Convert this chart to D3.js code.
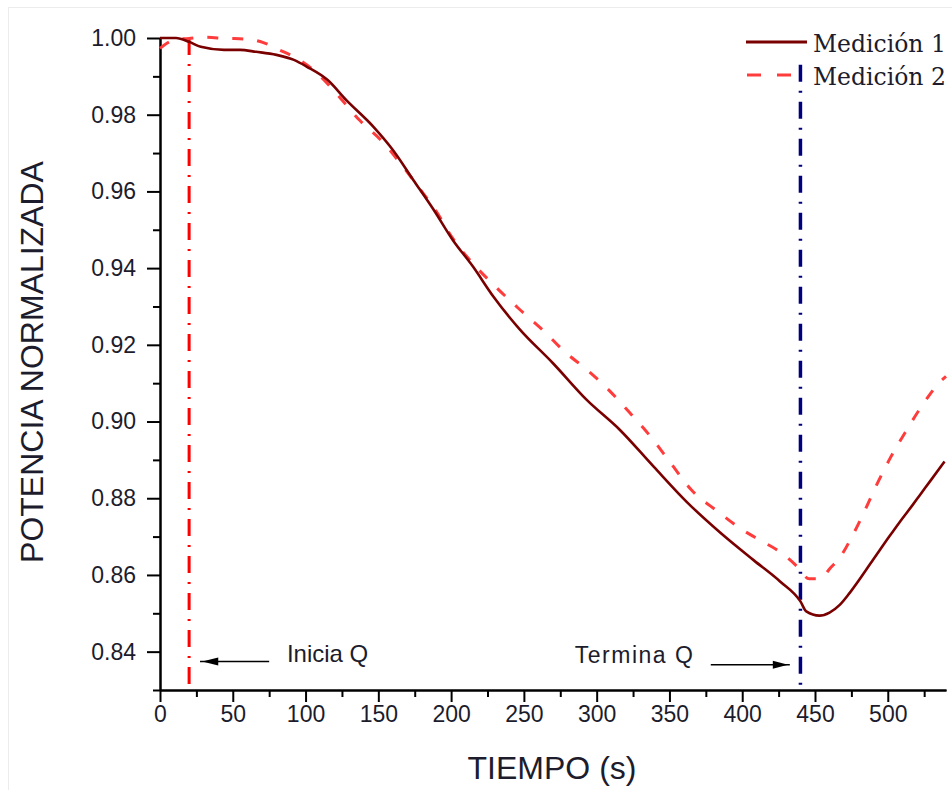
<!DOCTYPE html>
<html>
<head>
<meta charset="utf-8">
<script src="https://cdn.jsdelivr.net/npm/d3@7"></script>
<style>
  html, body { margin: 0; padding: 0; background: #fff; }
  svg { display: block; }
</style>
</head>
<body>
<svg id="chart" width="952" height="790"></svg>
<script>
// ---------- data ----------
const tiempo1 = [0, 11, 20, 28, 44, 55, 66, 80, 92, 101, 115, 128, 146.5, 160, 174, 188, 201, 215, 229, 247, 270, 293, 316, 339, 362, 385, 408, 426, 440, 444, 453, 460, 467, 474, 490, 501, 508, 517, 522, 529, 539];
const medicion1 = [1.0000, 1.0000, 0.9990, 0.9977, 0.9969, 0.9969, 0.9964, 0.9956, 0.9943, 0.9925, 0.9891, 0.9838, 0.9769, 0.9708, 0.9630, 0.9552, 0.9474, 0.9404, 0.9326, 0.9241, 0.9152, 0.9057, 0.8978, 0.8883, 0.8790, 0.8710, 0.8638, 0.8583, 0.8531, 0.8505, 0.8494, 0.8502, 0.8522, 0.8554, 0.8640, 0.8700, 0.8737, 0.8782, 0.8808, 0.8844, 0.8896];

const tiempo2 = [0, 5, 11, 20, 28, 46, 60, 71, 82, 94, 108, 121, 137, 153, 166, 179, 190, 201, 215, 228, 246, 264, 278, 292, 306, 322, 337, 351, 365, 383, 400, 414, 426, 438, 446, 453, 461, 467, 475, 484, 493, 501, 513, 524, 536, 540];
const medicion2 = [0.9973, 0.9987, 0.9997, 0.9999, 1.0002, 0.9999, 0.9997, 0.9988, 0.9969, 0.9947, 0.9908, 0.9856, 0.9786, 0.9729, 0.9669, 0.9604, 0.9547, 0.9478, 0.9412, 0.9361, 0.9296, 0.9235, 0.9182, 0.9139, 0.9091, 0.9026, 0.8961, 0.8891, 0.8822, 0.8766, 0.8718, 0.8687, 0.8660, 0.8621, 0.8590, 0.8590, 0.8620, 0.8645, 0.8697, 0.8766, 0.8840, 0.8900, 0.8978, 0.9044, 0.9104, 0.9118];

const xMajorTicks = [0, 50, 100, 150, 200, 250, 300, 350, 400, 450, 500];
const xMinorTicks = [25, 75, 125, 175, 225, 275, 325, 375, 425, 475, 525];
const yMajorTicks = [0.84, 0.86, 0.88, 0.90, 0.92, 0.94, 0.96, 0.98, 1.00];
const yMinorTicks = [0.83, 0.85, 0.87, 0.89, 0.91, 0.93, 0.95, 0.97, 0.99];

const seriesNames = ["Medición 1", "Medición 2"];
const inicioQ = 20;     // s
const finQ = 440;       // s
const xLabel = "TIEMPO (s)";
const yLabel = "POTENCIA NORMALIZADA";
const anotInicia = "Inicia Q";
const anotTermina = "Termina Q";

// ---------- layout ----------
const svg = d3.select("#chart");
const sans = "'Liberation Sans', Arial, sans-serif";
const serif = "'DejaVu Serif', 'Liberation Serif', serif";
const txtColor = "#1c1c2c";

const x = d3.scaleLinear().domain([0, 540]).range([160, 946]);
const y = d3.scaleLinear().domain([0.83, 1.00]).range([690, 38]);

// faint frame
svg.append("rect").attr("x", 8.5).attr("y", 7.5).attr("width", 952).attr("height", 790)
  .attr("fill", "none").attr("stroke", "#ececec").attr("stroke-width", 1);

// ---------- axes ----------
const xAxisMajor = d3.axisBottom(x).tickValues(xMajorTicks).tickSize(12).tickSizeOuter(0).tickPadding(4)
  .tickFormat(d3.format("d"));
const xAxisMinor = d3.axisBottom(x).tickValues(xMinorTicks).tickSize(7).tickSizeOuter(0).tickFormat("");
const yAxisMajor = d3.axisLeft(y).tickValues(yMajorTicks).tickSize(13).tickSizeOuter(0).tickPadding(11)
  .tickFormat(d3.format(".2f"));
const yAxisMinor = d3.axisLeft(y).tickValues(yMinorTicks).tickSize(7).tickSizeOuter(0).tickFormat("");

function styleAxis(g) {
  g.selectAll("path.domain").attr("stroke", "#000").attr("stroke-width", 2);
  g.selectAll(".tick line").attr("stroke", "#000").attr("stroke-width", 2);
  g.selectAll(".tick text").attr("fill", txtColor).style("font-family", sans).style("font-size", "23px");
}

svg.append("g").attr("transform", "translate(0,690)").call(xAxisMinor).call(styleAxis);
svg.append("g").attr("transform", "translate(0,690)").call(xAxisMajor).call(styleAxis);
svg.append("g").attr("transform", "translate(160,0)").call(yAxisMinor).call(styleAxis);
svg.append("g").attr("transform", "translate(160,0)").call(yAxisMajor).call(styleAxis);

// axis titles
svg.append("text").attr("x", 552).attr("y", 779).attr("text-anchor", "middle")
  .style("font-family", sans).style("font-size", "32px").attr("fill", txtColor).text(xLabel);
svg.append("text").attr("transform", "translate(43,362) rotate(-90)").attr("text-anchor", "middle")
  .style("font-family", sans).style("font-size", "32px").attr("fill", txtColor).text(yLabel);

// ---------- vertical markers ----------
svg.append("line").attr("x1", x(inicioQ)).attr("x2", x(inicioQ)).attr("y1", y(1.00)).attr("y2", y(0.83))
  .attr("stroke", "#ff0000").attr("stroke-width", 3).attr("stroke-dasharray", "17,9,2,9");
svg.append("line").attr("x1", x(finQ)).attr("x2", x(finQ)).attr("y1", y(0.993)).attr("y2", y(0.83))
  .attr("stroke", "#00007f").attr("stroke-width", 3.5).attr("stroke-dasharray", "17,9,2,9");

// ---------- data lines ----------
const line = d3.line().x(d => x(d[0])).y(d => y(d[1])).curve(d3.curveMonotoneX);
const data1 = tiempo1.map((t, i) => [t, medicion1[i]]);
const data2 = tiempo2.map((t, i) => [t, medicion2[i]]);

svg.append("path").datum(data2).attr("d", line).attr("fill", "none")
  .attr("stroke", "#ff3c3c").attr("stroke-width", 3).attr("stroke-dasharray", "11,14");
svg.append("path").datum(data1).attr("d", line).attr("fill", "none")
  .attr("stroke", "#7a0000").attr("stroke-width", 2.6);

// ---------- annotations ----------
const ayI = 0.8374, ayT = 0.8366;
svg.append("line").attr("x1", x(27.5)).attr("x2", x(75)).attr("y1", y(ayI)).attr("y2", y(ayI))
  .attr("stroke", "#000").attr("stroke-width", 1.5);
svg.append("path")
  .attr("d", `M${x(29)},${y(ayI)} L${x(40)},${y(ayI) - 4} L${x(40)},${y(ayI) + 4} Z`)
  .attr("fill", "#000");
svg.append("text").attr("x", x(87.2)).attr("y", 662)
  .style("font-family", sans).style("font-size", "24px").attr("fill", txtColor).text(anotInicia);

svg.append("line").attr("x1", x(378.4)).attr("x2", x(432.7)).attr("y1", y(ayT)).attr("y2", y(ayT))
  .attr("stroke", "#000").attr("stroke-width", 1.5);
svg.append("path")
  .attr("d", `M${x(431.5)},${y(ayT)} L${x(421)},${y(ayT) - 4} L${x(421)},${y(ayT) + 4} Z`)
  .attr("fill", "#000");
svg.append("text").attr("x", x(285)).attr("y", 663).style("letter-spacing", "1.5px")
  .style("font-family", sans).style("font-size", "23px").attr("fill", txtColor).text(anotTermina);

// ---------- legend ----------
const lg = svg.append("g");
lg.append("line").attr("x1", 746).attr("x2", 807).attr("y1", 42).attr("y2", 42)
  .attr("stroke", "#7a0000").attr("stroke-width", 3);
lg.append("line").attr("x1", 747).attr("x2", 807).attr("y1", 75).attr("y2", 75)
  .attr("stroke", "#ff3c3c").attr("stroke-width", 3).attr("stroke-dasharray", "14,16");
lg.append("text").attr("x", 813).attr("y", 52).style("font-family", serif).style("font-size", "23.5px")
  .attr("fill", txtColor).text(seriesNames[0]);
lg.append("text").attr("x", 813).attr("y", 85).style("font-family", serif).style("font-size", "23.5px")
  .attr("fill", txtColor).text(seriesNames[1]);
</script>
</body>
</html>
